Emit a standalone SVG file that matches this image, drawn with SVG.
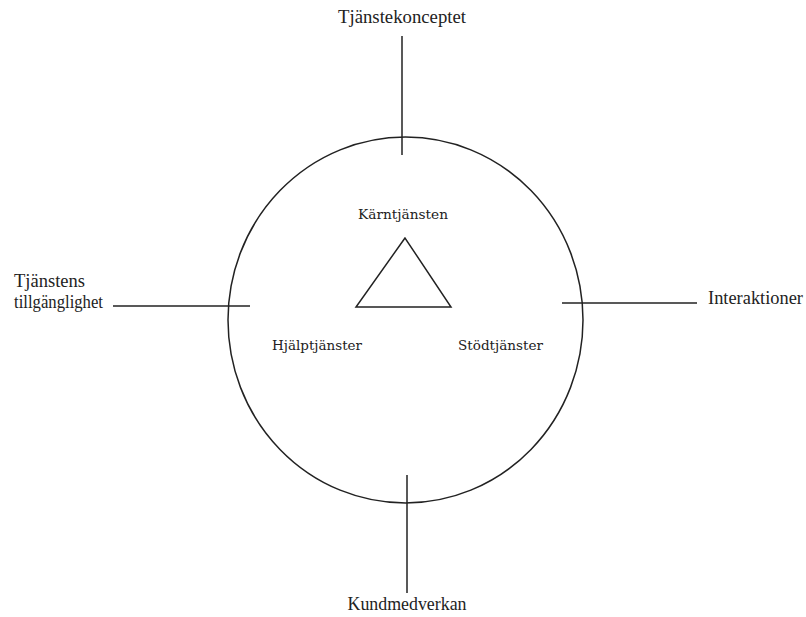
<svg xmlns="http://www.w3.org/2000/svg" width="806" height="617" viewBox="0 0 806 617">
<style>
.ln{stroke:#222;stroke-width:1.5;fill:none}
.out{font-family:"Liberation Serif","Times New Roman",serif;font-size:18.5px;fill:#222}
.in{font-family:"DejaVu Serif","Liberation Serif",serif;font-size:12.5px;fill:#222}
</style>
<rect width="806" height="617" fill="#fff"/>
<g id="circle"><ellipse class="ln" cx="405.5" cy="320" rx="177.5" ry="183"/></g>
<g id="triangle"><polygon class="ln" points="405,238 356,307 451,307"/></g>
<g id="connectors">
<line class="ln" x1="402" y1="36" x2="402" y2="155"/>
<line class="ln" x1="113" y1="306" x2="250" y2="306"/>
<line class="ln" x1="562" y1="303" x2="697" y2="303"/>
<line class="ln" x1="407" y1="475" x2="407" y2="593"/>
</g>
<g id="tjanstekonceptet"><text class="out" x="402" y="23" text-anchor="middle" textLength="128" lengthAdjust="spacingAndGlyphs">Tjänstekonceptet</text></g>
<g id="tillganglighet"><text class="out" x="14" y="287" textLength="71" lengthAdjust="spacingAndGlyphs">Tjänstens</text><text class="out" x="14" y="308" textLength="89" lengthAdjust="spacingAndGlyphs">tillgänglighet</text></g>
<g id="interaktioner"><text class="out" x="708" y="304" textLength="95" lengthAdjust="spacingAndGlyphs">Interaktioner</text></g>
<g id="kundmedverkan"><text class="out" x="407" y="610" text-anchor="middle" textLength="119" lengthAdjust="spacingAndGlyphs">Kundmedverkan</text></g>
<g id="karntjansten"><text class="in" x="403" y="219" text-anchor="middle" textLength="90" lengthAdjust="spacingAndGlyphs">Kärntjänsten</text></g>
<g id="hjalptjanster"><text class="in" x="272" y="350" textLength="90" lengthAdjust="spacingAndGlyphs">Hjälptjänster</text></g>
<g id="stodtjanster"><text class="in" x="458" y="350" textLength="85" lengthAdjust="spacingAndGlyphs">Stödtjänster</text></g>
</svg>
